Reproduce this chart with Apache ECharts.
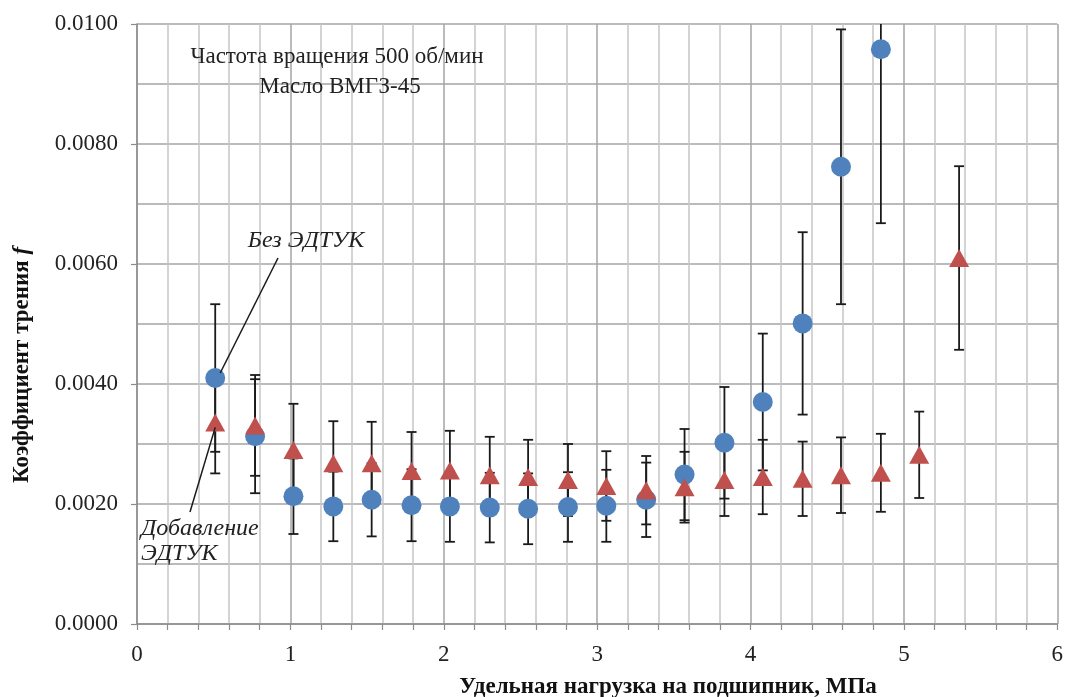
<!DOCTYPE html>
<html>
<head>
<meta charset="utf-8">
<script src="https://cdn.jsdelivr.net/npm/echarts@6/dist/echarts.min.js"></script>
<style>
html,body{margin:0;padding:0;background:#fff;}
#chart{width:1066px;height:697px;}
</style>
</head>
<body>
<div id="chart"></div>
<script>
// Load (MPa)
const loadX = [0.51,0.77,1.02,1.28,1.53,1.79,2.04,2.30,2.55,2.81,3.06,3.32,3.57,3.83,4.08,4.34,4.59,4.85,5.10,5.36];
// Без ЭДТУК (blue circles)
const baseVals = [0.00410,0.00313,0.00213,0.00196,0.00207,0.00198,0.00196,0.00194,0.00192,0.00195,0.00197,0.00207,0.00249,0.00302,0.00370,0.00501,0.00762,0.00958];
const baseErr  = [0.00123,0.00095,0.00063,0.00058,0.00061,0.00060,0.00059,0.00058,0.00059,0.00058,0.00060,0.00062,0.00076,0.00093,0.00114,0.00152,0.00229,0.00290];
// Добавление ЭДТУК (red triangles)
const addVals = [0.00336,0.00331,0.00290,0.00268,0.00268,0.00255,0.00256,0.00248,0.00245,0.00240,0.00230,0.00223,0.00228,0.00240,0.00245,0.00242,0.00248,0.00252,0.00282,0.00610];
const addErr  = [0.00085,0.00084,0.00077,0.00070,0.00069,0.00065,0.00066,0.00064,0.00062,0.00060,0.00058,0.00057,0.00059,0.00060,0.00062,0.00062,0.00063,0.00065,0.00072,0.00153];
const xTicks = [0,1,2,3,4,5,6];
const yTicks = [0,0.002,0.004,0.006,0.008,0.010];

const SERIF = '"Liberation Serif","Times New Roman",serif';
const Y_MAX = 0.01;

const baseData = baseVals.map((v,i)=>[loadX[i], v]);
const addData = addVals.map((v,i)=>[loadX[i], v]);
const baseErrData = baseVals.map((v,i)=>[loadX[i], v-baseErr[i], v+baseErr[i]]);
const addErrData = addVals.map((v,i)=>[loadX[i], v-addErr[i], v+addErr[i]]);

function errItem(params, api){
  const x = api.value(0), lo = api.value(1), hi = api.value(2);
  const hiC = Math.min(hi, Y_MAX), loC = Math.max(lo, 0);
  const pLo = api.coord([x, loC]);
  const pHi = api.coord([x, hiC]);
  const hw = 5;
  const st = {stroke:'#1a1a1a', lineWidth:1.8};
  const children = [
    {type:'line', shape:{x1:pLo[0],y1:pLo[1],x2:pHi[0],y2:pHi[1]}, style:st}
  ];
  if (lo >= 0) children.push({type:'line', shape:{x1:pLo[0]-hw,y1:pLo[1],x2:pLo[0]+hw,y2:pLo[1]}, style:st});
  if (hi <= Y_MAX) children.push({type:'line', shape:{x1:pHi[0]-hw,y1:pHi[1],x2:pHi[0]+hw,y2:pHi[1]}, style:st});
  return {type:'group', children};
}

const chart = echarts.init(document.getElementById('chart'));
chart.setOption({
  animation:false,
  backgroundColor:'#fff',
  grid:{left:137, right:3, top:24, bottom:73, containLabel:false},
  xAxis:{
    type:'value', min:xTicks[0], max:xTicks[xTicks.length-1], interval:1,
    axisLine:{show:true, lineStyle:{color:'#8c8c8c', width:1.5}},
    axisTick:{show:true, length:6, lineStyle:{color:'#8c8c8c', width:1.2}},
    minorTick:{show:true, splitNumber:5, length:6, lineStyle:{color:'#8c8c8c', width:1.2}},
    splitLine:{show:true, lineStyle:{color:'#a4a4a4', width:1.5}},
    minorSplitLine:{show:true, lineStyle:{color:'#c6c6c6', width:1.5}},
    axisLabel:{fontFamily:SERIF, fontSize:23, color:'#222', margin:19}
  },
  yAxis:{
    type:'value', min:yTicks[0], max:yTicks[yTicks.length-1], interval:0.002,
    axisLine:{show:true, lineStyle:{color:'#8c8c8c', width:1.5}},
    axisTick:{show:true, length:6, lineStyle:{color:'#8c8c8c', width:1.2}},
    minorTick:{show:false, splitNumber:2},
    splitLine:{show:true, lineStyle:{color:'#a4a4a4', width:1.5}},
    minorSplitLine:{show:true, lineStyle:{color:'#a4a4a4', width:1.5}},
    axisLabel:{fontFamily:SERIF, fontSize:23, color:'#222', margin:19, formatter:v=>v.toFixed(4)}
  },
  series:[
    {type:'custom', name:'errBase', data:baseErrData, renderItem:errItem, z:1, encode:{x:0,y:[1,2]}, silent:true},
    {type:'custom', name:'errAdd', data:addErrData, renderItem:errItem, z:1, encode:{x:0,y:[1,2]}, silent:true},
    {type:'scatter', name:'Без ЭДТУК', data:baseData, symbol:'circle', symbolSize:20, z:3,
      itemStyle:{color:'#4f81bd', opacity:1}},
    {type:'scatter', name:'Добавление ЭДТУК', data:addData, symbol:'triangle', symbolSize:[20,18], z:4,
      itemStyle:{color:'#c0504d', opacity:1}}
  ]
});

const pBase = chart.convertToPixel({gridIndex:0}, baseData[0]);
const pAdd = chart.convertToPixel({gridIndex:0}, addData[0]);

chart.setOption({
  graphic:[
    {type:'text', x:337, y:57, style:{text:'Частота вращения 500 об/мин', font:'23px '+SERIF, fill:'#222', align:'center', verticalAlign:'middle'}},
    {type:'text', x:340, y:87, style:{text:'Масло ВМГЗ-45', font:'23px '+SERIF, fill:'#222', align:'center', verticalAlign:'middle'}},
    {type:'text', x:306, y:241, style:{text:'Без ЭДТУК', font:'italic 24px '+SERIF, fill:'#222', align:'center', verticalAlign:'middle'}},
    {type:'text', x:141, y:529, style:{text:'Добавление', font:'italic 24px '+SERIF, fill:'#222', align:'left', verticalAlign:'middle'}},
    {type:'text', x:141, y:554, style:{text:'ЭДТУК', font:'italic 24px '+SERIF, fill:'#222', align:'left', verticalAlign:'middle'}},
    {type:'line', shape:{x1:278, y1:258, x2:pBase[0]+5, y2:pBase[1]-5}, style:{stroke:'#1a1a1a', lineWidth:1.5}, z:10},
    {type:'line', shape:{x1:190, y1:512, x2:pAdd[0], y2:pAdd[1]+5}, style:{stroke:'#1a1a1a', lineWidth:1.5}, z:10},
    {type:'text', x:668, y:687, style:{text:'Удельная нагрузка на подшипник, МПа', font:'bold 23px '+SERIF, fill:'#111', align:'center', verticalAlign:'middle'}},
    {type:'group', x:22, y:365, rotation:Math.PI/2, children:[
      {type:'text', style:{rich:{b:{font:'bold 23px '+SERIF, fill:'#111'}, i:{font:'bold italic 23px '+SERIF, fill:'#111'}}, text:'{b|Коэффициент трения }{i|f}', align:'center', verticalAlign:'middle'}}
    ]}
  ]
});
</script>
</body>
</html>
